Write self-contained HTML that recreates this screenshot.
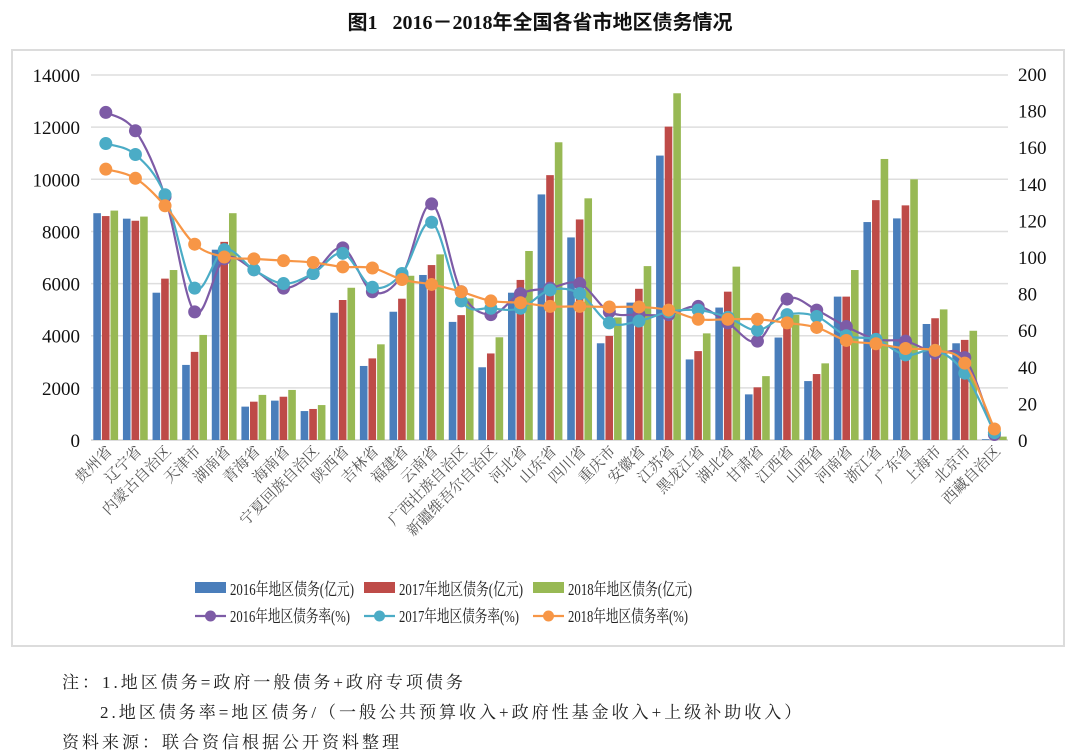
<!DOCTYPE html>
<html><head><meta charset="utf-8">
<style>
body{margin:0;background:#fff;width:1080px;height:752px;overflow:hidden;position:relative;font-family:"Liberation Serif","Noto Serif CJK SC",serif}
.t{position:absolute;white-space:nowrap}
</style></head><body>
<div class="t" style="left:0;width:1080px;top:6px;text-align:center;font-size:20px;font-weight:bold;font-family:'Liberation Serif','Noto Sans CJK SC',sans-serif;color:#111">图1&nbsp;&nbsp;&nbsp;2016－2018年全国各省市地区债务情况</div>
<div style="position:absolute;left:11px;top:49px;width:1050px;height:594px;border:2px solid #dcdcdc"></div>
<svg id="c" width="1080" height="752" style="position:absolute;left:0;top:0"></svg>
<div class="t" style="left:62px;top:668px;font-size:17px;color:#222;letter-spacing:3px">注：1.地区债务=政府一般债务+政府专项债务</div>
<div class="t" style="left:100px;top:698px;font-size:17px;color:#222;letter-spacing:3px">2.地区债务率=地区债务/（一般公共预算收入+政府性基金收入+上级补助收入）</div>
<div class="t" style="left:62px;top:728px;font-size:17px;color:#222;letter-spacing:3px">资料来源：联合资信根据公开资料整理</div>
<script>
var names=["贵州省","辽宁省","内蒙古自治区","天津市","湖南省","青海省","海南省","宁夏回族自治区","陕西省","吉林省","福建省","云南省","广西壮族自治区","新疆维吾尔自治区","河北省","山东省","四川省","重庆市","安徽省","江苏省","黑龙江省","湖北省","甘肃省","江西省","山西省","河南省","浙江省","广东省","上海市","北京市","西藏自治区"];
var B=[8.70,8.49,5.65,2.88,7.3,1.28,1.51,1.11,4.88,2.84,4.92,6.33,4.53,2.79,5.65,9.42,7.77,3.71,5.27,10.91,3.09,5.08,1.75,3.93,2.26,5.50,8.36,8.50,4.45,3.71,0.03];
var R=[8.59,8.41,6.19,3.38,7.6,1.47,1.66,1.19,5.37,3.13,5.42,6.71,4.79,3.32,6.14,10.16,8.46,3.99,5.80,12.02,3.41,5.69,2.02,4.4,2.53,5.50,9.20,9.0,4.67,3.84,0.05];
var G=[8.80,8.57,6.52,4.03,8.70,1.73,1.92,1.34,5.84,3.67,6.3,7.12,5.43,3.94,7.25,11.42,9.27,4.7,6.67,13.30,4.09,6.65,2.45,4.8,2.94,6.52,10.78,10.0,5.01,4.19,0.13];
var P=[179,169,133,70,99,93,83,91,105,81,90,129,81,68.5,80,83,85.5,70,68.5,68.5,73,64,54,77,71,62,55,54,47.5,45,3];
var C=[162,156,134,83,104,93,85.5,91,102,83.5,91,119,76,72,72,82,80,64,65,70,71,67,60,68.5,67.5,57,55,46.5,49,36.5,4];
var O=[148,143,128,107,100,99,98,97,94.6,94,87.7,85,81,76,75,73,73,72.7,72.7,71,66,66,66,64,61.5,54.4,52.6,50,49,42,6];
var y0=440,py=26.07,x0=91,w=29.62;
var s='';
for(var i=0;i<=7;i++){var y=y0-i*2000*py/1000;
 s+='<line x1="91" x2="1008" y1="'+y+'" y2="'+y+'" stroke="'+(i?'#dedede':'#d0d0d0')+'" stroke-width="1.5"/>';
 s+='<text x="80" y="'+(y+7)+'" font-size="19" text-anchor="end" fill="#111">'+(i*2000)+'</text>';}
for(var i=0;i<=10;i++){var y=y0-i*20*366/200;
 s+='<text x="1018" y="'+(y+7)+'" font-size="19" fill="#111">'+(i*20)+'</text>';}
var cols=['#4a7ebb','#be4b48','#98b954'];
for(var k=0;k<31;k++){var cx=x0+w*(k+0.5);
 [B,R,G].forEach(function(a,j){var h=a[k]*py;s+='<rect x="'+(cx-12.5+j*8.6)+'" y="'+(y0-h)+'" width="7.6" height="'+h+'" fill="'+cols[j]+'"/>';});
 s+='<text transform="translate('+(cx+7)+',452) rotate(-45)" text-anchor="end" font-size="15" fill="#555" font-family="Noto Serif CJK SC,serif">'+names[k]+'</text>';}
function line(a,col){var pts=a.map(function(v,k){return [x0+w*(k+0.5),y0-v*366/200];});
 var d='M'+pts[0];for(var i=0;i<pts.length-1;i++){var p0=pts[i-1]||pts[i],p1=pts[i],p2=pts[i+1],p3=pts[i+2]||p2;
 var t=0.17;d+=' C'+(p1[0]+(p2[0]-p0[0])*t)+','+(p1[1]+(p2[1]-p0[1])*t)+' '+(p2[0]-(p3[0]-p1[0])*t)+','+(p2[1]-(p3[1]-p1[1])*t)+' '+p2;}
 var r='<path d="'+d+'" fill="none" stroke="'+col+'" stroke-width="2.2"/>';
 pts.forEach(function(p){r+='<circle cx="'+p[0]+'" cy="'+p[1]+'" r="6.5" fill="'+col+'"/>';});return r;}
s+=line(P,'#7d5ba6')+line(C,'#4bacc6')+line(O,'#f79646');
var lx=[195,364,533],lt=['2016年地区债务(亿元)','2017年地区债务(亿元)','2018年地区债务(亿元)'],lr=['2016年地区债务率(%)','2017年地区债务率(%)','2018年地区债务率(%)'],lc=['#7d5ba6','#4bacc6','#f79646'];
for(var j=0;j<3;j++){s+='<rect x="'+lx[j]+'" y="582" width="31" height="11" fill="'+cols[j]+'"/>';
 s+='<text x="'+(lx[j]+35)+'" y="595" font-size="17" fill="#222" textLength="124" lengthAdjust="spacingAndGlyphs">'+lt[j]+'</text>';
 s+='<line x1="'+lx[j]+'" x2="'+(lx[j]+31)+'" y1="616" y2="616" stroke="'+lc[j]+'" stroke-width="2.2"/><circle cx="'+(lx[j]+15.5)+'" cy="616" r="5.5" fill="'+lc[j]+'"/>';
 s+='<text x="'+(lx[j]+35)+'" y="622" font-size="17" fill="#222" textLength="120" lengthAdjust="spacingAndGlyphs">'+lr[j]+'</text>';}
document.getElementById('c').innerHTML=s;
</script>
</body></html>
